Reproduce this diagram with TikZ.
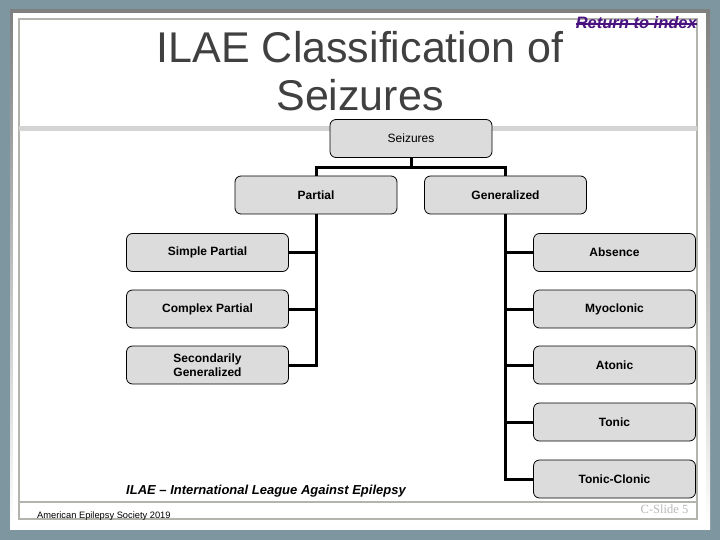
\documentclass[tikz,border=0pt]{standalone}
\usepackage{fontspec}
\setmainfont{Liberation Sans}
\newfontfamily\slidefont{Liberation Serif}

\begin{document}
\begin{tikzpicture}[x=1pt,y=-1pt,font=\fontsize{12}{14}\selectfont]
\definecolor{frame}{HTML}{7E96A0}\definecolor{shade}{HTML}{667E88}
\definecolor{edge}{HTML}{B4B4AE}\definecolor{band}{HTML}{D3D5D3}
\definecolor{ink}{HTML}{404040}\definecolor{boxfill}{HTML}{DCDCDC}
\definecolor{link}{HTML}{4B1380}\definecolor{faint}{HTML}{B8B8B8}
\tikzset{
  box/.style={draw=black,line width=.8pt,fill=boxfill,rounded corners=6pt,
    minimum width=162pt,minimum height=38pt,inner sep=2pt,align=center,
    font=\fontsize{12}{14}\selectfont\bfseries},
  wire/.style={line width=3pt}}
\useasboundingbox (0,0) rectangle (720,540);
% slide frame
\fill[frame] (0,0) rectangle (720,540);
\fill[shade] (10,10) rectangle (710,529);
\fill[white] (13,13) rectangle (706,525);
\draw[edge,line width=1.5pt] (19,19) rectangle (697,519);
\fill[band] (19,126) rectangle (697,131.5);
\draw[edge,line width=2pt] (19,502) -- (697,502);
% headings
\node[text=ink,font=\fontsize{43}{48}\selectfont,align=center] (title) at (360,71.5) {ILAE Classification of\\Seizures};
\node[anchor=base east,inner sep=0,text=link,font=\fontsize{16.5}{18}\selectfont\bfseries\itshape] (ret) at (697,28.3) {Return to index};
\draw[link,line width=1.3pt] ([yshift=4.3pt]ret.base west) -- ([yshift=4.3pt]ret.base east);
% tree
\node[box,font=\fontsize{12}{14}\selectfont] (seiz) at (411,138.5) {Seizures};
\node[box] (part) at (316,195) {Partial};
\node[box] (gen) at (505.5,195) {Generalized};
\node[box] (simp) at (207.5,252.5) {Simple Partial};
\node[box] (comp) at (207.5,309) {Complex Partial};
\node[box] (sec) at (207.5,365) {Secondarily\\Generalized};
\node[box] (abs) at (614.5,252.5) {Absence};
\node[box] (myo) at (614.5,309) {Myoclonic};
\node[box] (aton) at (614.5,365) {Atonic};
\node[box] (ton) at (614.5,422) {Tonic};
\node[box] (tcl) at (614.5,479) {Tonic-Clonic};
\draw[wire] (seiz.south) -- ++(0,10) -| (part.north);
\draw[wire] (seiz.south) -- ++(0,10) -| (gen.north);
\draw[wire] (part.south) |- (sec.east);
\foreach \n in {simp,comp} \draw[wire] (\n.east) -- (\n.east -| part.south);
\draw[wire] (gen.south) |- (tcl.west);
\foreach \n in {abs,myo,aton,ton} \draw[wire] (\n.west) -- (\n.west -| gen.south);
% footer
\node[anchor=west,inner sep=0,font=\fontsize{13}{15}\selectfont\bfseries\itshape] (ilae) at (126,491) {ILAE – International League Against Epilepsy};
\node[anchor=base west,inner sep=0,font=\fontsize{9.3}{11}\selectfont] (aes) at (37,518) {American Epilepsy Society 2019};
\node[anchor=base east,inner sep=0,text=faint,font=\slidefont\fontsize{12.5}{14}\selectfont] (slide) at (688.5,513) {C-Slide 5};
\end{tikzpicture}
\end{document}
